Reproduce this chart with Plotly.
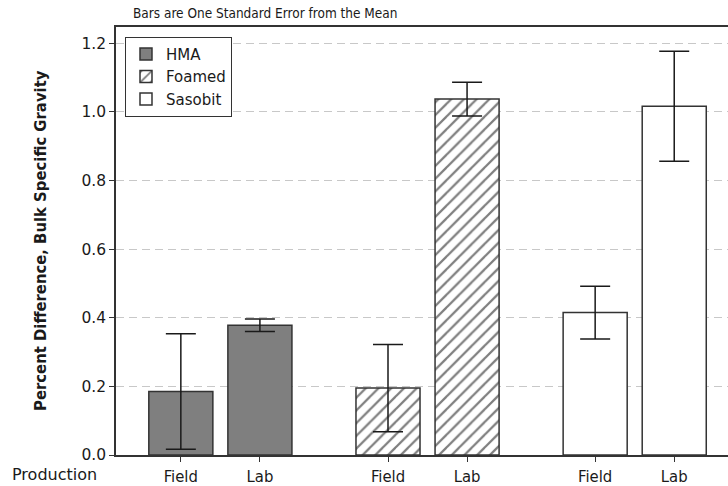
import plotly.graph_objects as go

# Mean percent difference in bulk specific gravity, with one standard error
treatments = ["HMA", "Foamed", "Sasobit"]
production = ["Field", "Lab"]
means = {
    "HMA": [0.185, 0.378],
    "Foamed": [0.195, 1.037],
    "Sasobit": [0.415, 1.016],
}
std_errors = {
    "HMA": [0.168, 0.018],
    "Foamed": [0.127, 0.049],
    "Sasobit": [0.077, 0.160],
}

# Layout of the grouped bars along a numeric axis
GROUP_STEP = 2.62
BAR_WIDTH = 0.81

NARROW = "DejaVu Sans Condensed, DejaVu Sans, sans-serif"
WIDE = "DejaVu Sans, sans-serif"
TEXT = "#1a1a1a"
EDGE = "#333333"

styles = {
    "HMA": dict(color="#7f7f7f"),
    "Foamed": dict(color="white",
                   pattern=dict(shape="/", fgcolor="black", bgcolor="white",
                                size=9, solidity=0.25)),
    "Sasobit": dict(color="white"),
}

fig = go.Figure()
tick_pos, tick_text = [], []
for g, name in enumerate(treatments):
    xs = [g * GROUP_STEP + i for i in range(len(production))]
    tick_pos += xs
    tick_text += production
    fig.add_trace(go.Bar(
        x=xs,
        y=means[name],
        width=BAR_WIDTH,
        name=name,
        marker=dict(line=dict(color=EDGE, width=1.5), **styles[name]),
        error_y=dict(type="data", array=std_errors[name], visible=True,
                     color=TEXT, thickness=1.5, width=15),
    ))

fig.update_layout(
    width=728,
    height=486,
    margin=dict(l=116, r=0, t=27, b=31, pad=0),
    paper_bgcolor="white",
    plot_bgcolor="white",
    font=dict(family=WIDE, size=15, color=TEXT),
    barmode="overlay",
    title=dict(text="Bars are One Standard Error from the Mean",
               font=dict(family=NARROW, size=13.5, color=TEXT),
               x=133 / 728, xref="container", xanchor="left",
               y=1 - 13 / 486, yref="container", yanchor="middle"),
    legend=dict(x=0.0147, y=0.977, xanchor="left", yanchor="top",
                bgcolor="white", bordercolor=EDGE, borderwidth=1,
                font=dict(family=WIDE, size=15, color=TEXT),
                tracegroupgap=0),
    showlegend=True,
)

fig.update_xaxes(
    range=[-0.82, 6.92],
    tickmode="array", tickvals=tick_pos, ticktext=tick_text,
    ticks="outside", ticklen=5, tickcolor=EDGE, tickwidth=1,
    showline=True, linecolor=EDGE, linewidth=1.5, mirror=True,
    showgrid=False, zeroline=False,
    tickfont=dict(family=NARROW, size=16.5, color=TEXT),
)
fig.update_yaxes(
    range=[0, 1.247], dtick=0.2, tick0=0, tickformat=".1f",
    ticks="outside", ticklen=5, tickcolor=EDGE, tickwidth=1,
    showline=True, linecolor=EDGE, linewidth=1.5,
    showgrid=True, gridcolor="#c8c8c8", gridwidth=1, griddash="8px,5px",
    zeroline=False,
    tickfont=dict(family=WIDE, size=15.5, color=TEXT),
)

fig.add_annotation(text="<b>Percent Difference, Bulk Specific Gravity</b>",
                   xref="paper", yref="paper", x=(40 - 116) / 612, y=0.5,
                   xanchor="center", yanchor="middle", textangle=-90,
                   showarrow=False, font=dict(family=NARROW, size=16.5, color=TEXT))
fig.add_annotation(text="Production",
                   xref="paper", yref="paper", x=(10 - 116) / 612, y=(455 - 475) / 428,
                   xanchor="left", yanchor="middle",
                   showarrow=False, font=dict(family=WIDE, size=16, color=TEXT))

fig.write_html("out.html")
